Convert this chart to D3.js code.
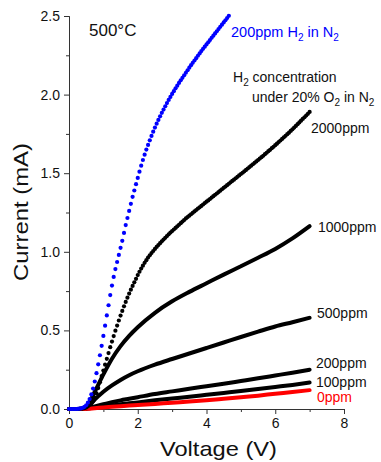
<!DOCTYPE html>
<html>
<head>
<meta charset="utf-8">
<script src="https://cdn.jsdelivr.net/npm/d3@7"></script>
<style>
  body { margin: 0; background: #fff; }
  text { font-family: "Liberation Sans", Arial, sans-serif; }
</style>
</head>
<body>
<div class="board"></div>
<script>
// measured sweep: one point every 0.05 V
var sweepStep = 0.05;

// 200ppm H2 in N2 (blue dots), 0 .. 4.65 V
var blueI = [
  0, 0, 0, 0, 0, 0.001, 0.002, 0.004, 0.008, 0.014,
  0.024, 0.04, 0.063, 0.093, 0.13, 0.175, 0.228, 0.284, 0.342, 0.402,
  0.465, 0.53, 0.595, 0.66, 0.725, 0.785, 0.84, 0.89, 0.935, 0.98,
  1.025, 1.07, 1.12, 1.17, 1.215, 1.26, 1.305, 1.35, 1.39, 1.43,
  1.47, 1.51, 1.548, 1.584, 1.618, 1.65, 1.68, 1.709, 1.737, 1.764,
  1.79, 1.815, 1.839, 1.862, 1.884, 1.905, 1.926, 1.946, 1.966, 1.985,
  2.004, 2.022, 2.04, 2.057, 2.074, 2.091, 2.107, 2.123, 2.139, 2.155,
  2.171, 2.187, 2.202, 2.217, 2.232, 2.247, 2.262, 2.277, 2.291, 2.305,
  2.319, 2.333, 2.347, 2.361, 2.375, 2.389, 2.403, 2.417, 2.431, 2.445,
  2.459, 2.473, 2.487, 2.501
];

// 2000ppm under 20% O2 (black dots), 0 .. 7.0 V
var i2000 = [
  0, 0, 0, 0, 0, 0, 0.001, 0.002, 0.003, 0.005,
  0.01, 0.017, 0.027, 0.037, 0.05, 0.072, 0.10, 0.133, 0.17, 0.21,
  0.245, 0.282, 0.319, 0.356, 0.393, 0.429, 0.464, 0.498, 0.531, 0.563,
  0.594, 0.624, 0.653, 0.681, 0.708, 0.734, 0.759, 0.783, 0.806, 0.828,
  0.852, 0.873, 0.893, 0.912, 0.93, 0.947, 0.963, 0.978, 0.992, 1.005,
  1.018, 1.031, 1.043, 1.055, 1.067, 1.078, 1.089, 1.1, 1.111, 1.122,
  1.132, 1.142, 1.152, 1.162, 1.172, 1.182, 1.192, 1.202, 1.212, 1.221,
  1.23, 1.239, 1.248, 1.257, 1.266, 1.275, 1.283, 1.292, 1.301, 1.31,
  1.319, 1.327, 1.336, 1.345, 1.354, 1.363, 1.371, 1.38, 1.389, 1.398,
  1.407, 1.415, 1.424, 1.433, 1.442, 1.451, 1.459, 1.468, 1.477, 1.486,
  1.495, 1.503, 1.512, 1.521, 1.53, 1.539, 1.548, 1.557, 1.566, 1.575,
  1.584, 1.593, 1.602, 1.611, 1.621, 1.63, 1.64, 1.649, 1.659, 1.668,
  1.678, 1.688, 1.698, 1.708, 1.718, 1.728, 1.738, 1.748, 1.758, 1.769,
  1.779, 1.79, 1.801, 1.812, 1.823, 1.834, 1.845, 1.856, 1.867, 1.878,
  1.89
];

// the lower concentrations, read at these voltages
var lineV = [0, 0.25, 0.4, 0.5, 0.75, 1, 1.25, 1.5, 1.75, 2, 2.5, 3, 3.5, 4, 4.5, 5, 5.5, 6, 6.5, 7];
var i1000 = [0, 0, 0.002, 0.012, 0.11, 0.22, 0.32, 0.40, 0.465, 0.52, 0.612, 0.685, 0.745, 0.80, 0.855, 0.908, 0.962, 1.018, 1.085, 1.163];
var i500  = [0, 0, 0.001, 0.006, 0.06, 0.11, 0.15, 0.185, 0.215, 0.24, 0.282, 0.318, 0.353, 0.388, 0.423, 0.458, 0.492, 0.525, 0.552, 0.58];
var i200  = [0, 0, 0.001, 0.003, 0.017, 0.03, 0.043, 0.055, 0.065, 0.075, 0.095, 0.112, 0.129, 0.145, 0.161, 0.178, 0.195, 0.213, 0.231, 0.25];
var i100  = [0, 0, 0, 0.002, 0.009, 0.015, 0.022, 0.03, 0.036, 0.042, 0.055, 0.067, 0.078, 0.09, 0.102, 0.114, 0.127, 0.14, 0.153, 0.168];
var i0    = [0, 0, 0, 0.001, 0.005, 0.01, 0.014, 0.018, 0.022, 0.025, 0.032, 0.04, 0.047, 0.055, 0.065, 0.075, 0.085, 0.097, 0.108, 0.12];

var xTicks = [0, 2, 4, 6, 8];
var xMinor = [1, 3, 5, 7];
var yTicks = [0, 0.5, 1.0, 1.5, 2.0, 2.5];
var yMinor = [0.25, 0.75, 1.25, 1.75, 2.25];

var board = d3.select('.board').append('svg')
                .attr('width', 381)
                .attr('height', 462);

var x = d3.scaleLinear().domain([0, 8]).range([69, 344]);
var y = d3.scaleLinear().domain([0, 2.5]).range([409, 16]);

//axes
var axisColor = '#333';
var styleAxis = function(g) {
  g.select('.domain').attr('stroke', axisColor).attr('stroke-width', 1);
  g.selectAll('.tick line').attr('stroke', axisColor);
  g.selectAll('.tick text').attr('fill', '#111')
    .style('font-family', '"Liberation Sans", Arial, sans-serif')
    .style('font-size', '14px');
};

board.append('g').attr('transform', 'translate(0,409)')
  .call(d3.axisBottom(x).tickValues(xMinor).tickSize(3).tickFormat(''))
  .call(styleAxis);
board.append('g').attr('transform', 'translate(0,409)')
  .call(d3.axisBottom(x).tickValues(xTicks).tickSize(5).tickSizeOuter(0).tickPadding(4).tickFormat(d3.format('d')))
  .call(styleAxis);

board.append('g').attr('transform', 'translate(69,0)')
  .call(d3.axisLeft(y).tickValues(yMinor).tickSize(3).tickFormat(''))
  .call(styleAxis);
board.append('g').attr('transform', 'translate(69,0)')
  .call(d3.axisLeft(y).tickValues(yTicks).tickSize(5).tickSizeOuter(0).tickPadding(4).tickFormat(d3.format('.1f')))
  .call(styleAxis);

// axis titles
board.append('text')
  .attr('x', 160).attr('y', 456)
  .attr('textLength', 117).attr('lengthAdjust', 'spacingAndGlyphs')
  .style('font-size', '21px').attr('fill', '#111')
  .text('Voltage (V)');

board.append('text')
  .attr('transform', 'translate(28,281) rotate(-90)')
  .attr('textLength', 138).attr('lengthAdjust', 'spacingAndGlyphs')
  .style('font-size', '21px').attr('fill', '#111')
  .text('Current (mA)');

// thick lines for the lower concentrations
var line = d3.line()
  .x(function(d) { return x(d[0]); })
  .y(function(d) { return y(d[1]); })
  .curve(d3.curveMonotoneX);

var thick = [
  { vals: i1000, color: '#000' },
  { vals: i500,  color: '#000' },
  { vals: i200,  color: '#000' },
  { vals: i100,  color: '#000' },
  { vals: i0,    color: '#ff0000' }
];

board.selectAll('path.iv')
  .data(thick)
  .enter()
  .append('path')
  .attr('class', 'iv')
  .attr('fill', 'none')
  .attr('stroke', function(s) { return s.color; })
  .attr('stroke-width', 4)
  .attr('stroke-linecap', 'round')
  .attr('d', function(s) {
    return line(lineV.map(function(v, i) { return [v, s.vals[i]]; }));
  });

// dotted measured curves
var drawDots = function(vals, color) {
  board.append('g').selectAll('circle')
    .data(vals)
    .enter()
    .append('circle')
    .attr('cx', function(d, i) { return x(i * sweepStep); })
    .attr('cy', function(d) { return y(d); })
    .attr('r', 2.1)
    .attr('fill', color);
};
drawDots(i2000, '#000');
drawDots(blueI, '#0000ff');

// labels
var lab = function(tx, ty, str, color) {
  return board.append('text').attr('x', tx).attr('y', ty)
    .style('font-size', '14px').attr('fill', color || '#111').text(str);
};
lab(89, 36, '500°C').style('font-size', '17px');

lab(311, 133, '2000ppm');
lab(318, 232, '1000ppm');
lab(317, 318, '500ppm');
lab(316, 368, '200ppm');
lab(316, 387, '100ppm');
lab(317, 402, '0ppm', '#ff0000');

var sub = function(t, str) {
  t.append('tspan').attr('dy', 4).style('font-size', '10px').text(str);
};

var blueLab = lab(231, 37, '', '#0000ff').style('font-size', '14.5px');
blueLab.append('tspan').text('200ppm H');
sub(blueLab, '2');
blueLab.append('tspan').attr('dy', -4).text(' in N');
sub(blueLab, '2');

var h2 = lab(233, 82, '');
h2.append('tspan').text('H');
sub(h2, '2');
h2.append('tspan').attr('dy', -4).text(' concentration');

var o2 = lab(252, 102, '');
o2.append('tspan').text('under 20% O');
sub(o2, '2');
o2.append('tspan').attr('dy', -4).text(' in N');
sub(o2, '2');
</script>
</body>
</html>
